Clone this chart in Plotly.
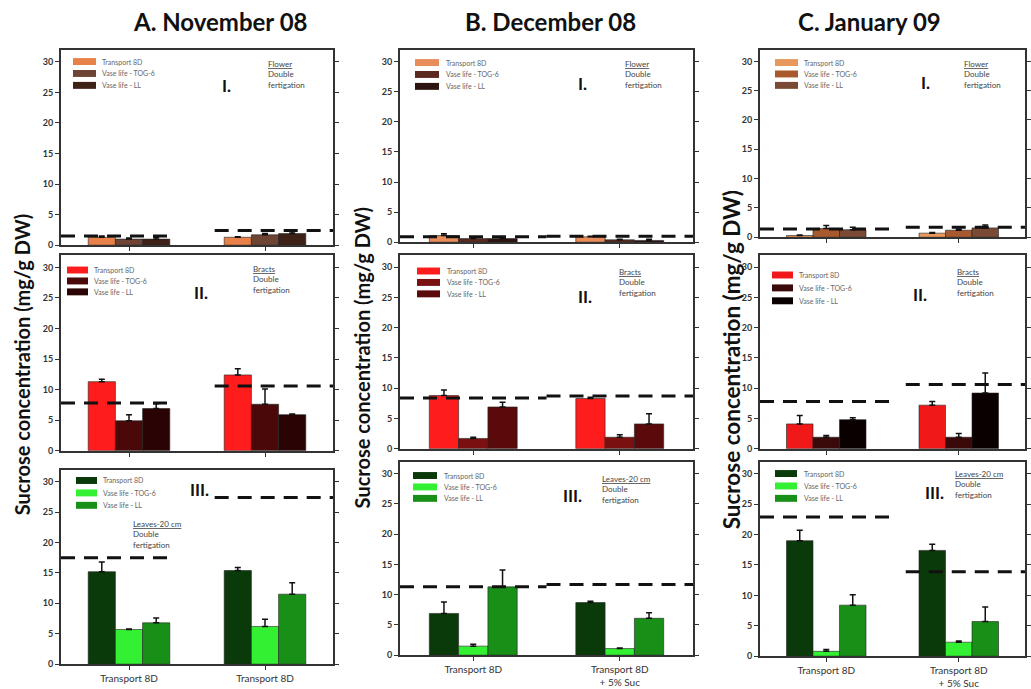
import plotly.graph_objects as go

# ---------------- data ----------------
categories_nov = ["Transport 8D", "Transport 8D"]
categories_dec_jan = ["Transport 8D", "Transport 8D<br>+ 5% Suc"]
series_names = ["Transport 8D", "Vase life - TOG-6", "Vase life - LL"]
months = ["A. November 08", "B. December 08", "C. January 09"]
organs = ["Flower", "Bracts", "Leaves-20 cm"]
panel_tags = ["I.", "II.", "III."]
y_ticks = [0, 5, 10, 15, 20, 25, 30]

# values are [series][category]; err = upper error bar length
nov_flower_mean = [[1.3, 1.3], [1.0, 1.7], [1.0, 1.9]]
nov_flower_err = [[0.2, 0.1], [0.2, 0.2], [0.3, 0.3]]
nov_flower_ref = [1.5, 2.4]

nov_bracts_mean = [[11.3, 12.4], [4.9, 7.6], [6.9, 5.9]]
nov_bracts_err = [[0.4, 1.0], [1.0, 2.5], [0.8, 0.1]]
nov_bracts_ref = [7.8, 10.6]

nov_leaves_mean = [[15.2, 15.4], [5.7, 6.2], [6.8, 11.5]]
nov_leaves_err = [[1.6, 0.5], [0.1, 1.2], [0.8, 1.9]]
nov_leaves_ref = [17.5, 27.4]

dec_flower_mean = [[1.1, 0.9], [0.6, 0.4], [0.6, 0.3]]
dec_flower_err = [[0.3, 0.1], [0.1, 0.1], [0.1, 0.2]]
dec_flower_ref = [0.9, 1.0]

dec_bracts_mean = [[8.8, 8.3], [1.7, 1.9], [6.9, 4.1]]
dec_bracts_err = [[0.9, 0.2], [0.2, 0.4], [0.8, 1.7]]
dec_bracts_ref = [8.4, 8.7]

dec_leaves_mean = [[6.9, 8.7], [1.5, 1.1], [11.3, 6.1]]
dec_leaves_err = [[1.9, 0.2], [0.3, 0.1], [2.8, 0.9]]
dec_leaves_ref = [11.3, 11.7]

jan_flower_mean = [[0.3, 0.7], [1.5, 1.2], [1.3, 1.6]]
jan_flower_err = [[0.1, 0.1], [0.5, 0.2], [0.4, 0.5]]
jan_flower_ref = [1.4, 1.7]

jan_bracts_mean = [[4.1, 7.2], [1.9, 1.9], [4.8, 9.2]]
jan_bracts_err = [[1.4, 0.6], [0.3, 0.6], [0.3, 3.3]]
jan_bracts_ref = [7.8, 10.6]

jan_leaves_mean = [[19.0, 17.4], [0.8, 2.3], [8.4, 5.7]]
jan_leaves_err = [[1.7, 1.0], [0.3, 0.2], [1.7, 2.4]]
jan_leaves_ref = [22.9, 13.9]

# ---------------- styling ----------------
panels = [
    [(nov_flower_mean, nov_flower_err, nov_flower_ref),
     (dec_flower_mean, dec_flower_err, dec_flower_ref),
     (jan_flower_mean, jan_flower_err, jan_flower_ref)],
    [(nov_bracts_mean, nov_bracts_err, nov_bracts_ref),
     (dec_bracts_mean, dec_bracts_err, dec_bracts_ref),
     (jan_bracts_mean, jan_bracts_err, jan_bracts_ref)],
    [(nov_leaves_mean, nov_leaves_err, nov_leaves_ref),
     (dec_leaves_mean, dec_leaves_err, dec_leaves_ref),
     (jan_leaves_mean, jan_leaves_err, jan_leaves_ref)],
]
col_categories = [categories_nov, categories_dec_jan, categories_dec_jan]

colors = [
    [["#E8804A", "#6E4434", "#3E2218"],
     ["#E88C5A", "#5A2A1E", "#2E1410"],
     ["#E8985A", "#A85A2E", "#7A4A34"]],
    [["#FF1C1C", "#4A0808", "#2A0404"],
     ["#FF1C1C", "#7A1010", "#5A0A0A"],
     ["#F01818", "#3A0A0A", "#0A0000"]],
    [["#0A3A0A", "#33F033", "#189018"],
     ["#0A3A0A", "#33F033", "#189018"],
     ["#0A3A0A", "#33F033", "#189018"]],
]

W, H = 1031, 689
col_x = [(61, 333), (400, 693), (760, 1025)]
row_y = [
    [(50, 247), (50, 244), (50, 239)],
    [(257, 454), (257, 452), (257, 452)],
    [(473, 669), (465, 660), (465, 661)],
]
ref_spans = [
    [(-0.5, 0.33), (0.63, 1.5)],
    [(-0.5, 0.5), (0.5, 1.5)],
    [(-0.5, 0.52), (0.6, 1.5)],
]
tag_pos = [
    [(226, 86), (582, 84), (925, 83)],
    [(201, 295), (585, 299), (920, 297)],
    [(199, 493), (572, 499), (934, 496)],
]
organ_pos = [
    [(266, 57), (623, 57), (962, 57)],
    [(251, 264), (617, 267), (955, 267)],
    [(131, 521), (600, 475), (953, 470)],
]
# legend swatch left, right and first-row centre y, row step, text x
legend_geo = [
    [(73, 96, 62, 12, 100), (415, 439, 63, 12, 444), (775, 798, 63, 11.5, 802)],
    [(67, 88, 272, 11, 92), (417, 440, 273, 11.5, 445), (772, 793, 277, 13, 797)],
    [(76, 97, 484, 12.5, 101), (413, 437, 479, 11.5, 442), (775, 797, 477, 12.5, 802)],
]


def px(x):
    return x / W


def py(y):
    return 1 - y / H


fig = go.Figure()
layout = dict(
    width=W, height=H, margin=dict(l=0, r=0, t=0, b=0),
    plot_bgcolor="white", paper_bgcolor="white",
    barmode="group", bargap=0.4, bargroupgap=0.0,
    font=dict(family="Lato, Arial, sans-serif", color="#333"),
    showlegend=False,
)
annotations = []
shapes = []

for r in range(3):
    for c in range(3):
        k = r * 3 + c + 1
        xa = "x" if k == 1 else f"x{k}"
        ya = "y" if k == 1 else f"y{k}"
        mean, err, ref = panels[r][c]
        for s in range(3):
            fig.add_trace(go.Bar(
                x=[0, 1], y=mean[s], name=series_names[s],
                marker=dict(color=colors[r][c][s], line=dict(color="#222", width=0.6)),
                error_y=dict(type="data", symmetric=False, array=err[s],
                             arrayminus=[0, 0], color="#111", thickness=1.5, width=3),
                xaxis=xa, yaxis=ya, offsetgroup=str(s),
            ))
        for g in range(2):
            x0, x1 = ref_spans[c][g]
            fig.add_trace(go.Scatter(
                x=[x0, x1], y=[ref[g], ref[g]], mode="lines",
                line=dict(color="#111", width=3, dash="14px,9px"),
                xaxis=xa, yaxis=ya, hoverinfo="skip",
            ))
        x0p, x1p = col_x[c]
        y0p, y1p = row_y[r][c]
        layout[f"xaxis{'' if k == 1 else k}"] = dict(
            domain=[px(x0p), px(x1p)], range=[-0.5, 1.5], anchor=ya,
            tickvals=[0, 1], ticktext=col_categories[c], showticklabels=(r == 2),
            ticks="outside", ticklen=4, tickcolor="#333",
            showline=True, linecolor="#333", linewidth=2, mirror=True,
            showgrid=False, zeroline=False,
            tickfont=dict(size=10, color="#333"),
        )
        layout[f"yaxis{'' if k == 1 else k}"] = dict(
            domain=[py(y1p), py(y0p)], range=[0, 32], anchor=xa,
            tickvals=y_ticks, ticks="outside", ticklen=4, tickcolor="#333",
            showline=True, linecolor="#333", linewidth=2, mirror="ticks",
            showgrid=False, zeroline=False,
            tickfont=dict(size=9, color="#333", weight="bold"),
        )
        # compact in-panel legend
        lx0, lx1, ly0, step, tx = legend_geo[r][c]
        for s in range(3):
            yc = ly0 + s * step
            shapes.append(dict(
                type="rect", xref="paper", yref="paper",
                x0=px(lx0), x1=px(lx1), y0=py(yc + 3.5), y1=py(yc - 3.5),
                fillcolor=colors[r][c][s], line=dict(width=0),
            ))
            annotations.append(dict(
                x=px(tx), y=py(yc), xref="paper", yref="paper",
                xanchor="left", yanchor="middle", text=series_names[s],
                showarrow=False, font=dict(size=7, color="#666"),
            ))
        tx, ty = tag_pos[r][c]
        annotations.append(dict(
            x=px(tx), y=py(ty), xref="paper", yref="paper", text=panel_tags[r],
            xanchor="center", yanchor="middle",
            showarrow=False, font=dict(size=17, color="#111", weight="bold"),
        ))
        ox, oy = organ_pos[r][c]
        annotations.append(dict(
            x=px(ox), y=py(oy), xref="paper", yref="paper",
            xanchor="left", yanchor="top", align="left",
            text=f"<u>{organs[r]}</u><br>Double<br>fertigation",
            showarrow=False, font=dict(size=8, color="#444"),
        ))

title_x = [220, 550, 869]
for c in range(3):
    annotations.append(dict(
        x=px(title_x[c]), y=py(22), xref="paper", yref="paper", text=months[c],
        xanchor="center", yanchor="middle",
        showarrow=False, font=dict(size=24, color="#111", weight="bold"),
    ))

ytitle_pos = [(22, 367, 20), (362, 360, 20), (731, 363, 22.5)]
for x, y, sz in ytitle_pos:
    annotations.append(dict(
        x=px(x), y=py(y), xref="paper", yref="paper", textangle=-90,
        xanchor="center", yanchor="middle",
        text="Sucrose concentration (mg/g DW)", showarrow=False,
        font=dict(size=sz, color="#111", weight="bold"),
    ))

layout["annotations"] = annotations
layout["shapes"] = shapes
fig.update_layout(**layout)
fig.write_html("out.html", config={"displayModeBar": False},
               post_script="document.body.style.margin='0px';")
